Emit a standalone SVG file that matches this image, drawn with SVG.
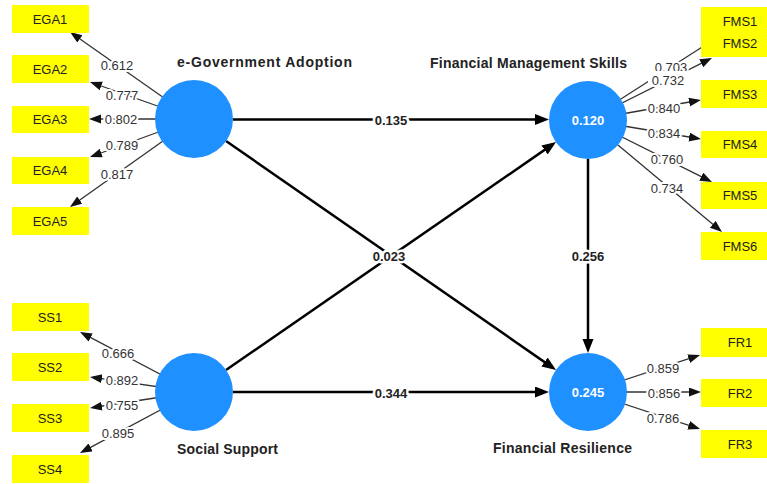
<svg xmlns="http://www.w3.org/2000/svg" width="767" height="484" viewBox="0 0 767 484">
<style>
.bg{fill:#ffffff}
.ind{stroke:#333;stroke-width:1.3;fill:none}
.path{stroke:#000;stroke-width:2.5;fill:none}
.box{fill:#ffff00}
.boxt{font-family:"Liberation Sans",Arial,sans-serif;font-size:13px;fill:#222;text-anchor:middle}
.lbl{font-family:"Liberation Sans",Arial,sans-serif;font-size:13px;fill:#333;text-anchor:middle;stroke:#fff;stroke-width:4;paint-order:stroke;stroke-linejoin:round}
.plbl{font-family:"Liberation Sans",Arial,sans-serif;font-size:13px;font-weight:bold;fill:#222;text-anchor:middle;stroke:#fff;stroke-width:5;paint-order:stroke;stroke-linejoin:round}
.lv{fill:#1e90ff}
.lvt{font-family:"Liberation Sans",Arial,sans-serif;font-size:13px;font-weight:bold;fill:#fff;text-anchor:middle}
.title{font-family:"Liberation Sans",Arial,sans-serif;font-size:14px;font-weight:bold;fill:#222}
</style>
<defs>
<marker id="ah" markerUnits="userSpaceOnUse" markerWidth="16" markerHeight="12" refX="8" refY="5.5" orient="auto">
<path d="M0,0 L14,5.5 L0,11 z" fill="#000"/>
</marker>
<marker id="ahs" markerUnits="userSpaceOnUse" markerWidth="14" markerHeight="10" refX="9" refY="4.5" orient="auto">
<path d="M0,0 L12,4.5 L0,9 z" fill="#111"/>
</marker>
</defs>
<rect class="bg" x="0" y="0" width="767" height="484"/>

<g id="connectors">
<!-- structural paths -->
<line class="path" x1="233" y1="119.5" x2="543" y2="119.5" marker-end="url(#ah)"/>
<line class="path" x1="233" y1="392" x2="543" y2="392" marker-end="url(#ah)"/>
<line class="path" x1="226" y1="141" x2="551.1" y2="366.6" marker-end="url(#ah)"/>
<line class="path" x1="226" y1="370" x2="551.1" y2="145.4" marker-end="url(#ah)"/>
<line class="path" x1="588" y1="159" x2="588" y2="347" marker-end="url(#ah)"/>
<!-- EGA indicators -->
<line class="ind" x1="194" y1="119" x2="72.5" y2="33.7" marker-end="url(#ahs)"/>
<line class="ind" x1="194" y1="119" x2="92.8" y2="83" marker-end="url(#ahs)"/>
<line class="ind" x1="194" y1="119" x2="92" y2="119" marker-end="url(#ahs)"/>
<line class="ind" x1="194" y1="119" x2="92.8" y2="156" marker-end="url(#ahs)"/>
<line class="ind" x1="194" y1="119" x2="72.4" y2="205.3" marker-end="url(#ahs)"/>
<!-- SS indicators -->
<line class="ind" x1="194" y1="392" x2="82.7" y2="333.4" marker-end="url(#ahs)"/>
<line class="ind" x1="194" y1="392" x2="93" y2="377.4" marker-end="url(#ahs)"/>
<line class="ind" x1="194" y1="392" x2="93" y2="407.5" marker-end="url(#ahs)"/>
<line class="ind" x1="194" y1="392" x2="82.6" y2="451.6" marker-end="url(#ahs)"/>
<!-- FMS indicators -->
<line class="ind" x1="588" y1="120" x2="703" y2="46.5"/>
<line class="ind" x1="588" y1="120" x2="709.3" y2="59.3" marker-end="url(#ahs)"/>
<line class="ind" x1="588" y1="120" x2="698" y2="100.5" marker-end="url(#ahs)"/>
<line class="ind" x1="588" y1="120" x2="698" y2="138.5" marker-end="url(#ahs)"/>
<line class="ind" x1="588" y1="120" x2="709.3" y2="180.7" marker-end="url(#ahs)"/>
<line class="ind" x1="588" y1="120" x2="719.7" y2="230.1" marker-end="url(#ahs)"/>
<!-- FR indicators -->
<line class="ind" x1="588" y1="392" x2="697.2" y2="355.9" marker-end="url(#ahs)"/>
<line class="ind" x1="588" y1="392" x2="698" y2="392" marker-end="url(#ahs)"/>
<line class="ind" x1="588" y1="392" x2="697.2" y2="428.1" marker-end="url(#ahs)"/>

<!-- labels -->
<text class="plbl" x="391" y="124.5">0.135</text>
<text class="plbl" x="389" y="260.5">0.023</text>
<text class="plbl" x="588" y="260.5">0.256</text>
<text class="plbl" x="391" y="397.5">0.344</text>

<text class="lbl" x="117" y="69.5">0.612</text>
<text class="lbl" x="122" y="99.5">0.777</text>
<text class="lbl" x="121" y="123.5">0.802</text>
<text class="lbl" x="122" y="149.5">0.789</text>
<text class="lbl" x="117" y="178.5">0.817</text>

<text class="lbl" x="118" y="357.5">0.666</text>
<text class="lbl" x="122" y="384.5">0.892</text>
<text class="lbl" x="122" y="409.5">0.755</text>
<text class="lbl" x="118" y="437.5">0.895</text>

<text class="lbl" x="671" y="71.5">0.703</text>
<rect x="648" y="71" width="38" height="15" fill="#fff"/>
<text class="lbl" x="668" y="84.5">0.732</text>
<text class="lbl" x="664" y="112.5">0.840</text>
<text class="lbl" x="664" y="137.5">0.834</text>
<text class="lbl" x="667" y="163.5">0.760</text>
<text class="lbl" x="667" y="192.5">0.734</text>

<text class="lbl" x="663" y="372.5">0.859</text>
<text class="lbl" x="664" y="397.5">0.856</text>
<text class="lbl" x="663" y="422.5">0.786</text>
</g>

<g id="EGA">
<circle class="lv" cx="194" cy="119" r="39"/>
<text class="title" x="177" y="67" textLength="175" lengthAdjust="spacing">e-Government Adoption</text>
</g>
<g id="SS">
<circle class="lv" cx="194" cy="392" r="39"/>
<text class="title" x="177" y="454" textLength="101" lengthAdjust="spacing">Social Support</text>
</g>
<g id="FMS">
<circle class="lv" cx="588" cy="120" r="39"/>
<text class="lvt" x="588" y="124.5">0.120</text>
<text class="title" x="430" y="68" textLength="197" lengthAdjust="spacing">Financial Management Skills</text>
</g>
<g id="FR">
<circle class="lv" cx="588" cy="392" r="39"/>
<text class="lvt" x="588" y="396.5">0.245</text>
<text class="title" x="493" y="453" textLength="139" lengthAdjust="spacing">Financial Resilience</text>
</g>

<g id="EGA1"><rect class="box" x="12" y="5" width="77" height="28"/><text class="boxt" x="50" y="23.5">EGA1</text></g>
<g id="EGA2"><rect class="box" x="12" y="55" width="77" height="28"/><text class="boxt" x="50" y="73.5">EGA2</text></g>
<g id="EGA3"><rect class="box" x="12" y="106" width="77" height="27"/><text class="boxt" x="50" y="124">EGA3</text></g>
<g id="EGA4"><rect class="box" x="12" y="157" width="77" height="27"/><text class="boxt" x="50" y="175">EGA4</text></g>
<g id="EGA5"><rect class="box" x="12" y="207" width="77" height="28"/><text class="boxt" x="50" y="225.5">EGA5</text></g>

<g id="SS1"><rect class="box" x="12" y="303" width="77" height="28"/><text class="boxt" x="50" y="321.5">SS1</text></g>
<g id="SS2"><rect class="box" x="12" y="353" width="77" height="28"/><text class="boxt" x="50" y="371.5">SS2</text></g>
<g id="SS3"><rect class="box" x="12" y="404" width="77" height="28"/><text class="boxt" x="50" y="422.5">SS3</text></g>
<g id="SS4"><rect class="box" x="12" y="455" width="77" height="28"/><text class="boxt" x="50" y="473.5">SS4</text></g>

<g id="FMS1"><rect class="box" x="701" y="7" width="77" height="28"/><text class="boxt" x="740" y="26">FMS1</text></g>
<g id="FMS2"><rect class="box" x="701" y="29" width="77" height="28"/><text class="boxt" x="740" y="47.5">FMS2</text></g>
<g id="FMS3"><rect class="box" x="701" y="80" width="77" height="28"/><text class="boxt" x="740" y="98.5">FMS3</text></g>
<g id="FMS4"><rect class="box" x="701" y="131" width="77" height="27"/><text class="boxt" x="740" y="149">FMS4</text></g>
<g id="FMS5"><rect class="box" x="701" y="182" width="77" height="27"/><text class="boxt" x="740" y="200">FMS5</text></g>
<g id="FMS6"><rect class="box" x="701" y="232" width="77" height="28"/><text class="boxt" x="740" y="250.5">FMS6</text></g>

<g id="FR1"><rect class="box" x="701" y="328" width="77" height="29"/><text class="boxt" x="740" y="347">FR1</text></g>
<g id="FR2"><rect class="box" x="701" y="379" width="77" height="28"/><text class="boxt" x="740" y="397.5">FR2</text></g>
<g id="FR3"><rect class="box" x="701" y="430" width="77" height="28"/><text class="boxt" x="740" y="448.5">FR3</text></g>
</svg>
